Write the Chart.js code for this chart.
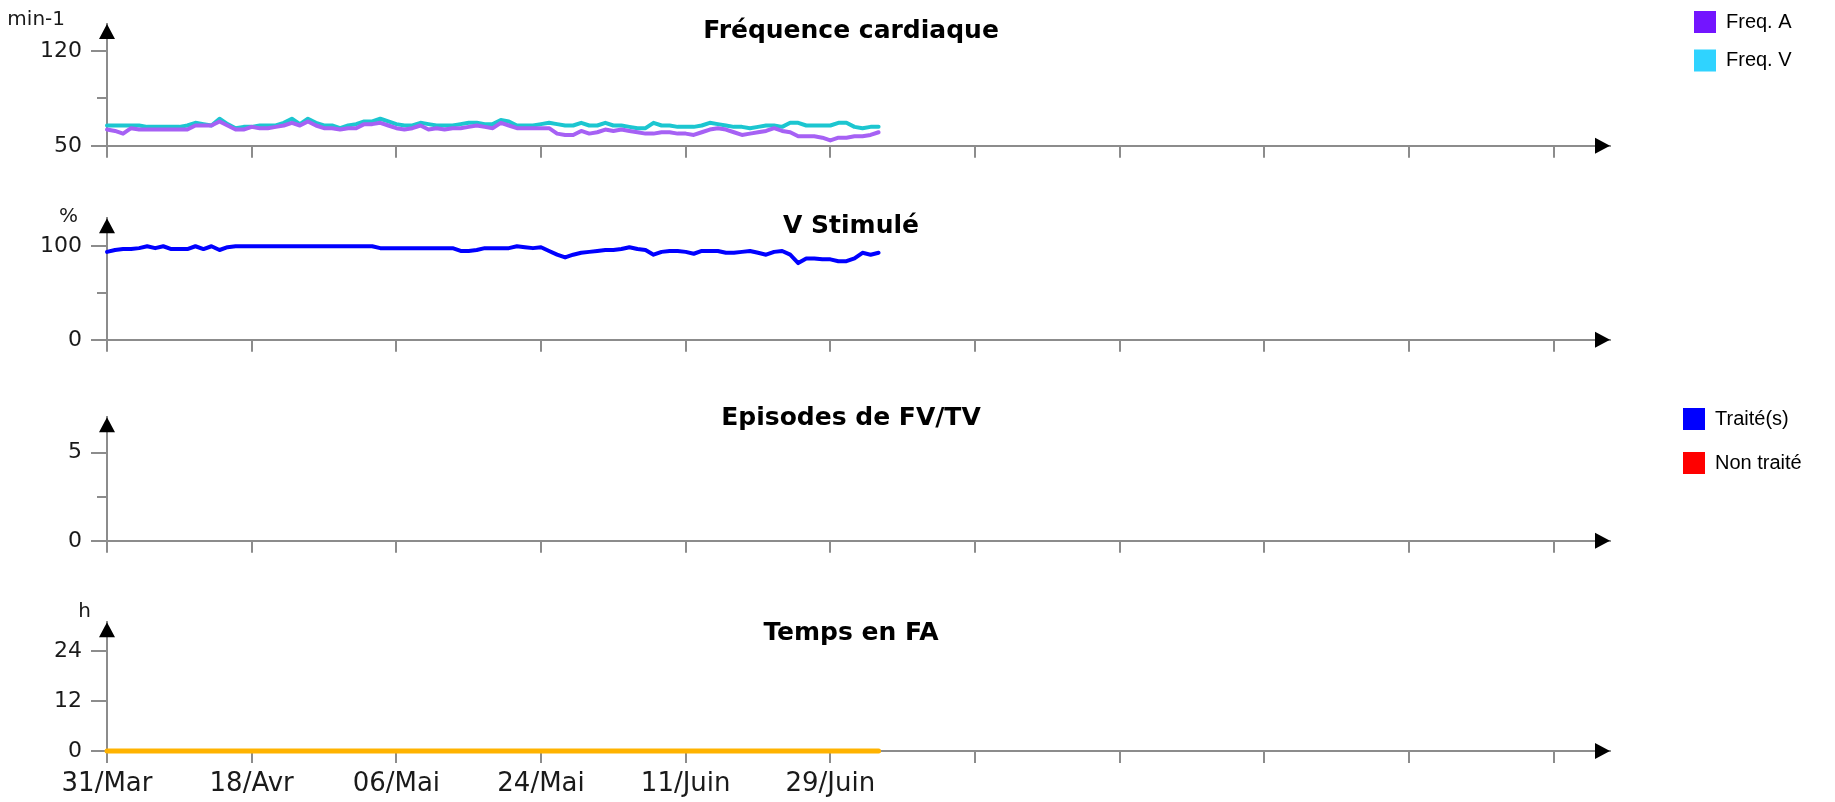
<!DOCTYPE html>
<html lang="fr">
<head>
<meta charset="utf-8">
<title>Tendances</title>
<script src="https://cdn.jsdelivr.net/npm/chart.js"></script>
<style>
  html, body { margin: 0; padding: 0; background: #fff; }
  #page { position: relative; width: 1835px; height: 802px; }
  canvas { position: absolute; left: 0; }
</style>
</head>
<body>
<div id="page">
  <canvas id="freqChart" width="1835" height="168" style="top:0px"></canvas>
  <canvas id="stimChart" width="1835" height="166" style="top:196px"></canvas>
  <canvas id="episodeChart" width="1835" height="168" style="top:395px"></canvas>
  <canvas id="afChart" width="1835" height="202" style="top:600px"></canvas>
</div>
<script>
// x = days since 31/Mar, one reading per day
const xTickDays = [0, 18, 36, 54, 72, 90, 108, 126, 144, 162, 180];
const xTickLabels = ["31/Mar", "18/Avr", "06/Mai", "24/Mai", "11/Juin", "29/Juin", "", "", "", "", ""];

// min-1
const freqA = [
  62, 61, 59, 63, 62, 62, 62, 62, 62, 62, 62, 65, 65, 65, 68, 65, 62, 62, 64, 63,
  63, 64, 65, 67, 65, 68, 65, 63, 63, 62, 63, 63, 66, 66, 67, 65, 63, 62, 63, 65,
  62, 63, 62, 63, 63, 64, 65, 64, 63, 67, 65, 63, 63, 63, 63, 63, 59, 58, 58, 61,
  59, 60, 62, 61, 62, 61, 60, 59, 59, 60, 60, 59, 59, 58, 60, 62, 63, 62, 60, 58,
  59, 60, 61, 63, 61, 60, 57, 57, 57, 56, 54, 56, 56, 57, 57, 58, 60,
];
const freqV = [
  65, 65, 65, 65, 65, 64, 64, 64, 64, 64, 65, 67, 66, 65, 70, 66, 63, 64, 64, 65,
  65, 65, 67, 70, 66, 70, 67, 65, 65, 63, 65, 66, 68, 68, 70, 68, 66, 65, 65, 67,
  66, 65, 65, 65, 66, 67, 67, 66, 66, 69, 68, 65, 65, 65, 66, 67, 66, 65, 65, 67,
  65, 65, 67, 65, 65, 64, 63, 63, 67, 65, 65, 64, 64, 64, 65, 67, 66, 65, 64, 64,
  63, 64, 65, 65, 64, 67, 67, 65, 65, 65, 65, 67, 67, 64, 63, 64, 64,
];
// %
const vStim = [
  94, 96, 97, 97, 98, 100, 98, 100, 97, 97, 97, 100, 97, 100, 96, 99, 100, 100, 100, 100,
  100, 100, 100, 100, 100, 100, 100, 100, 100, 100, 100, 100, 100, 100, 98, 98, 98, 98, 98, 98,
  98, 98, 98, 98, 95, 95, 96, 98, 98, 98, 98, 100, 99, 98, 99, 95, 91, 88, 91, 93,
  94, 95, 96, 96, 97, 99, 97, 96, 91, 94, 95, 95, 94, 92, 95, 95, 95, 93, 93, 94,
  95, 93, 91, 94, 95, 91, 82, 87, 87, 86, 86, 84, 84, 87, 93, 91, 93,
];
// episodes: none recorded
const episodesTreated = [];
const episodesUntreated = [];
// h
const afHours = [
  0, 0, 0, 0, 0, 0, 0, 0, 0, 0, 0, 0, 0, 0, 0, 0, 0, 0, 0, 0,
  0, 0, 0, 0, 0, 0, 0, 0, 0, 0, 0, 0, 0, 0, 0, 0, 0, 0, 0, 0,
  0, 0, 0, 0, 0, 0, 0, 0, 0, 0, 0, 0, 0, 0, 0, 0, 0, 0, 0, 0,
  0, 0, 0, 0, 0, 0, 0, 0, 0, 0, 0, 0, 0, 0, 0, 0, 0, 0, 0, 0,
  0, 0, 0, 0, 0, 0, 0, 0, 0, 0, 0, 0, 0, 0, 0, 0, 0,
];

const axisColor = "#8c8c8c";
const textColor = "#1a1a1a";
const tickFont = { family: "DejaVu Sans", size: 22 };

const toPoints = (values) => values.map((v, i) => ({ x: i, y: v }));

// arrows on the axes, short minor tick, unit label, legend placement
const axisDecor = {
  id: "axisDecor",
  beforeInit(chart) {
    const fit = chart.legend.fit;
    chart.legend.fit = function () {
      fit.call(this);
      this.width = 92;
    };
  },
  afterLayout(chart, args, opts) {
    if (opts.legendX === undefined) return;
    const legend = chart.legend;
    const pad = chart.options.plugins.legend.labels.padding;
    const h = legend.height;
    legend.left = opts.legendX - pad;
    legend.right = legend.left + 300;
    legend.top = opts.legendY - pad;
    legend.bottom = legend.top + h;
  },
  afterDraw(chart, args, opts) {
    const { ctx, chartArea } = chart;
    const { left, top, right, bottom } = chartArea;
    ctx.save();
    ctx.fillStyle = "#000";
    ctx.beginPath();
    ctx.moveTo(left, top);
    ctx.lineTo(left - 8, top + 15);
    ctx.lineTo(left + 8, top + 15);
    ctx.closePath();
    ctx.fill();
    ctx.beginPath();
    ctx.moveTo(right, bottom);
    ctx.lineTo(right - 15, bottom - 8);
    ctx.lineTo(right - 15, bottom + 8);
    ctx.closePath();
    ctx.fill();

    if (opts.minorTick !== undefined) {
      const y = Math.round(chart.scales.y.getPixelForValue(opts.minorTick));
      ctx.strokeStyle = axisColor;
      ctx.lineWidth = 2;
      ctx.beginPath();
      ctx.moveTo(left - 10, y);
      ctx.lineTo(left, y);
      ctx.stroke();
    }
    if (opts.unit) {
      ctx.fillStyle = textColor;
      ctx.font = "20px 'DejaVu Sans'";
      ctx.textAlign = "right";
      ctx.textBaseline = "middle";
      ctx.fillText(opts.unit, opts.unitX, top + opts.unitDy);
    }
    ctx.restore();
  },
};

const legendLabels = (chart) =>
  chart.data.datasets.map((ds, i) => ({
    text: ds.label,
    fillStyle: ds.legendColor,
    strokeStyle: ds.legendColor,
    lineWidth: 0,
    hidden: false,
    datasetIndex: i,
  }));

const makeOptions = (cfg) => ({
  responsive: false,
  animation: false,
  events: [],
  layout: { padding: { top: cfg.padTop || 22, left: 0, right: 133, bottom: 0 } },
  plugins: {
    title: {
      display: true,
      text: cfg.title,
      color: "#000",
      fullSize: true,
      font: { family: "DejaVu Sans", size: 25, weight: "bold", lineHeight: 1 },
      padding: { top: cfg.titleDy - 12.5, bottom: -(cfg.titleDy + 12.5) },
    },
    legend: {
      display: true,
      position: "right",
      align: "start",
      labels: {
        font: { family: "Liberation Sans", size: 20 },
        color: textColor,
        boxWidth: 22,
        boxHeight: 22,
        padding: cfg.legendPad || 17,
        generateLabels: legendLabels,
        filter: () => cfg.legendX !== undefined,
      },
    },
    tooltip: { enabled: false },
    axisDecor: {
      unit: cfg.unit,
      unitX: cfg.unitX,
      unitDy: cfg.unitDy,
      minorTick: cfg.minorTick,
      legendX: cfg.legendX,
      legendY: cfg.legendY,
    },
  },
  scales: {
    x: {
      type: "linear",
      min: 0,
      max: 187,
      offset: false,
      afterBuildTicks: (scale) => {
        scale.ticks = xTickDays.map((d) => ({ value: d }));
      },
      afterFit: (scale) => {
        scale.height = cfg.xHeight;
      },
      ticks: {
        display: cfg.showDates,
        autoSkip: false,
        maxRotation: 0,
        padding: 6,
        color: textColor,
        font: { family: "DejaVu Sans", size: 26 },
        callback: (v, i) => xTickLabels[i],
      },
      grid: {
        offset: false,
        drawOnChartArea: false,
        drawTicks: true,
        tickLength: 12,
        lineWidth: 2,
        tickColor: axisColor,
      },
      border: { display: true, color: axisColor, width: 2 },
    },
    y: {
      type: "linear",
      min: cfg.yMin,
      max: cfg.yMax,
      afterBuildTicks: (scale) => {
        scale.ticks = cfg.yTicks.map((v) => ({ value: v }));
      },
      afterFit: (scale) => {
        scale.width = 107;
      },
      ticks: {
        padding: 9,
        color: textColor,
        font: tickFont,
        callback: (v) => String(v),
      },
      grid: {
        drawOnChartArea: false,
        drawTicks: true,
        tickLength: 16,
        lineWidth: 2,
        tickColor: axisColor,
      },
      border: { display: true, color: axisColor, width: 2 },
    },
  },
});

const lineStyle = { pointRadius: 0, tension: 0, borderJoinStyle: "round", borderCapStyle: "round", clip: false };

new Chart(document.getElementById("freqChart"), {
  type: "line",
  data: {
    datasets: [
      { label: "Freq. A", data: toPoints(freqA), borderColor: "#a661f4", legendColor: "#7315ff", borderWidth: 4, ...lineStyle },
      { label: "Freq. V", data: toPoints(freqV), borderColor: "#1cc6d0", legendColor: "#2fd3ff", borderWidth: 4, ...lineStyle },
    ],
  },
  options: makeOptions({
    title: "Fréquence cardiaque", titleDy: 7, padTop: 24, unit: "min-1", unitX: 65, unitDy: -4,
    yMin: 50, yMax: 140, yTicks: [50, 120], minorTick: 85,
    showDates: false, xHeight: 14, legendX: 1694, legendY: 11, legendPad: 16.5,
  }),
  plugins: [axisDecor],
});

new Chart(document.getElementById("stimChart"), {
  type: "line",
  data: {
    datasets: [
      { label: "V Stimulé", data: toPoints(vStim), borderColor: "#0000ff", legendColor: "#0000ff", borderWidth: 4, ...lineStyle },
    ],
  },
  options: makeOptions({
    title: "V Stimulé", titleDy: 8, unit: "%", unitX: 78, unitDy: -1,
    yMin: 0, yMax: 130, yTicks: [0, 100], minorTick: 50,
    showDates: false, xHeight: 14,
  }),
  plugins: [axisDecor],
});

new Chart(document.getElementById("episodeChart"), {
  type: "bar",
  data: {
    datasets: [
      { label: "Traité(s)", data: toPoints(episodesTreated), backgroundColor: "#0000ff", legendColor: "#0000ff" },
      { label: "Non traité", data: toPoints(episodesUntreated), backgroundColor: "#ff0000", legendColor: "#ff0000" },
    ],
  },
  options: makeOptions({
    title: "Episodes de FV/TV", titleDy: 1,
    yMin: 0, yMax: 7, yTicks: [0, 5], minorTick: 2.5,
    showDates: false, xHeight: 14, legendX: 1683, legendY: 13, legendPad: 22,
  }),
  plugins: [axisDecor],
});

new Chart(document.getElementById("afChart"), {
  type: "line",
  data: {
    datasets: [
      { label: "Temps en FA", data: toPoints(afHours), borderColor: "#ffb300", legendColor: "#ffb300", borderWidth: 5, ...lineStyle },
    ],
  },
  options: makeOptions({
    title: "Temps en FA", titleDy: 11.5, unit: "h", unitX: 91, unitDy: -10,
    yMin: 0, yMax: 31, yTicks: [0, 12, 24],
    showDates: true, xHeight: 51,
  }),
  plugins: [axisDecor],
});
</script>
</body>
</html>
